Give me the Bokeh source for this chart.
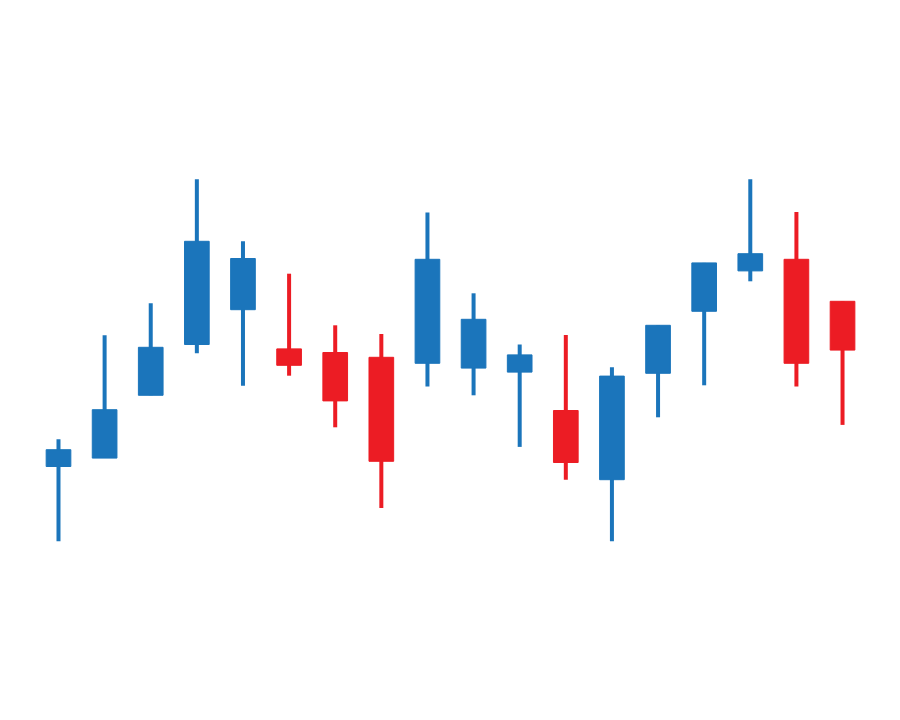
from bokeh.plotting import figure
from bokeh.models import Range1d, ColumnDataSource
from bokeh.embed import file_html
from bokeh.resources import INLINE

# Candle index (no labels shown in the reference)
periods = list(range(18))
opens  = [38.5, 40.6, 56.3, 69.0, 77.7, 67.9, 67.0, 65.8, 64.3, 63.1, 62.1, 52.5, 35.2, 61.8, 77.3, 87.4, 90.3, 79.8]
closes = [42.7, 52.7, 68.3, 94.8, 90.5, 63.8, 54.9, 39.8, 90.3, 75.3, 66.4, 39.5, 61.1, 73.8, 89.4, 91.7, 64.3, 67.6]
highs  = [45.3, 71.3, 79.3, 110.3, 94.8, 86.7, 73.8, 71.6, 102.0, 81.8, 69.0, 71.4, 63.3, 73.8, 89.4, 110.3, 102.1, 79.8]
lows   = [19.8, 40.6, 56.3, 66.8, 58.7, 61.2, 48.3, 28.1, 58.5, 56.3, 43.4, 35.2, 19.8, 50.8, 58.8, 84.8, 58.5, 48.9]

UP = "#1b75bb"
DOWN = "#ec1c24"

colors = [UP if c >= o else DOWN for o, c in zip(opens, closes)]
tops = [max(o, c) for o, c in zip(opens, closes)]
bottoms = [min(o, c) for o, c in zip(opens, closes)]

src = ColumnDataSource(dict(x=periods, top=tops, bottom=bottoms,
                            high=highs, low=lows, color=colors))

p = figure(width=884, height=704, output_backend="svg", toolbar_location=None,
           x_range=Range1d(-1.2575, 17.91), y_range=Range1d(-21, 155),
           min_border=0, background_fill_color="white",
           border_fill_color="white", outline_line_color=None)
p.xaxis.visible = False
p.yaxis.visible = False
p.grid.visible = False

p.segment(x0="x", y0="low", x1="x", y1="high", source=src,
          line_color="color", line_width=4, line_cap="butt")
p.vbar(x="x", top="top", bottom="bottom", width=0.535, source=src,
       fill_color="color", line_color="color", line_width=1)

open("out.html", "w").write(file_html(p, INLINE))
